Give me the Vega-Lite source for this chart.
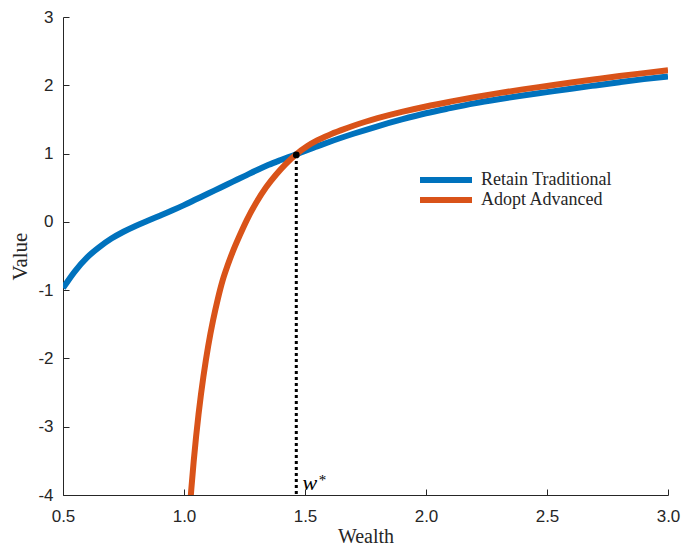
{
  "$schema": "https://vega.github.io/schema/vega-lite/v6.json",
  "autosize": {"type": "none"},
  "padding": {"left": 63, "top": 17, "right": 16, "bottom": 53},
  "width": 605,
  "height": 478,
  "background": "white",
  "config": {
    "view": {"stroke": null},
    "axis": {
      "domainColor": "#262626",
      "tickColor": "#262626",
      "labelColor": "#262626",
      "titleColor": "#262626",
      "labelFont": "Liberation Sans",
      "labelFontSize": 17,
      "titleFont": "Liberation Serif",
      "titleFontSize": 21,
      "titleFontWeight": "normal",
      "grid": false,
      "tickSize": -6,
      "domainWidth": 1,
      "tickWidth": 1,
      "labelFlush": false
    }
  },
  "datasets": {
    "curves": [
      {"wealth": 0.5, "value": -0.97, "series": "Retain Traditional"},
      {"wealth": 0.55, "value": -0.72, "series": "Retain Traditional"},
      {"wealth": 0.6, "value": -0.52, "series": "Retain Traditional"},
      {"wealth": 0.65, "value": -0.37, "series": "Retain Traditional"},
      {"wealth": 0.7, "value": -0.245, "series": "Retain Traditional"},
      {"wealth": 0.75, "value": -0.145, "series": "Retain Traditional"},
      {"wealth": 0.8, "value": -0.06, "series": "Retain Traditional"},
      {"wealth": 0.85, "value": 0.015, "series": "Retain Traditional"},
      {"wealth": 0.9, "value": 0.09, "series": "Retain Traditional"},
      {"wealth": 0.95, "value": 0.165, "series": "Retain Traditional"},
      {"wealth": 1.0, "value": 0.245, "series": "Retain Traditional"},
      {"wealth": 1.05, "value": 0.33, "series": "Retain Traditional"},
      {"wealth": 1.1, "value": 0.415, "series": "Retain Traditional"},
      {"wealth": 1.15, "value": 0.5, "series": "Retain Traditional"},
      {"wealth": 1.2, "value": 0.585, "series": "Retain Traditional"},
      {"wealth": 1.25, "value": 0.67, "series": "Retain Traditional"},
      {"wealth": 1.3, "value": 0.755, "series": "Retain Traditional"},
      {"wealth": 1.35, "value": 0.835, "series": "Retain Traditional"},
      {"wealth": 1.4, "value": 0.905, "series": "Retain Traditional"},
      {"wealth": 1.464, "value": 0.99, "series": "Retain Traditional"},
      {"wealth": 1.5, "value": 1.04, "series": "Retain Traditional"},
      {"wealth": 1.55, "value": 1.105, "series": "Retain Traditional"},
      {"wealth": 1.6, "value": 1.17, "series": "Retain Traditional"},
      {"wealth": 1.7, "value": 1.29, "series": "Retain Traditional"},
      {"wealth": 1.8, "value": 1.4, "series": "Retain Traditional"},
      {"wealth": 1.9, "value": 1.5, "series": "Retain Traditional"},
      {"wealth": 2.0, "value": 1.59, "series": "Retain Traditional"},
      {"wealth": 2.1, "value": 1.665, "series": "Retain Traditional"},
      {"wealth": 2.2, "value": 1.735, "series": "Retain Traditional"},
      {"wealth": 2.3, "value": 1.795, "series": "Retain Traditional"},
      {"wealth": 2.4, "value": 1.85, "series": "Retain Traditional"},
      {"wealth": 2.5, "value": 1.9, "series": "Retain Traditional"},
      {"wealth": 2.6, "value": 1.95, "series": "Retain Traditional"},
      {"wealth": 2.7, "value": 1.998, "series": "Retain Traditional"},
      {"wealth": 2.8, "value": 2.045, "series": "Retain Traditional"},
      {"wealth": 2.9, "value": 2.09, "series": "Retain Traditional"},
      {"wealth": 3.0, "value": 2.13, "series": "Retain Traditional"},
      {"wealth": 1.02, "value": -4.39, "series": "Adopt Advanced"},
      {"wealth": 1.03, "value": -3.922, "series": "Adopt Advanced"},
      {"wealth": 1.04, "value": -3.509, "series": "Adopt Advanced"},
      {"wealth": 1.05, "value": -3.144, "series": "Adopt Advanced"},
      {"wealth": 1.06, "value": -2.82, "series": "Adopt Advanced"},
      {"wealth": 1.07, "value": -2.53, "series": "Adopt Advanced"},
      {"wealth": 1.08, "value": -2.27, "series": "Adopt Advanced"},
      {"wealth": 1.09, "value": -2.033, "series": "Adopt Advanced"},
      {"wealth": 1.1, "value": -1.818, "series": "Adopt Advanced"},
      {"wealth": 1.12, "value": -1.444, "series": "Adopt Advanced"},
      {"wealth": 1.14, "value": -1.125, "series": "Adopt Advanced"},
      {"wealth": 1.16, "value": -0.853, "series": "Adopt Advanced"},
      {"wealth": 1.18, "value": -0.64, "series": "Adopt Advanced"},
      {"wealth": 1.2, "value": -0.45, "series": "Adopt Advanced"},
      {"wealth": 1.23, "value": -0.2, "series": "Adopt Advanced"},
      {"wealth": 1.26, "value": 0.03, "series": "Adopt Advanced"},
      {"wealth": 1.3, "value": 0.29, "series": "Adopt Advanced"},
      {"wealth": 1.34, "value": 0.51, "series": "Adopt Advanced"},
      {"wealth": 1.38, "value": 0.69, "series": "Adopt Advanced"},
      {"wealth": 1.42, "value": 0.845, "series": "Adopt Advanced"},
      {"wealth": 1.464, "value": 0.99, "series": "Adopt Advanced"},
      {"wealth": 1.51, "value": 1.11, "series": "Adopt Advanced"},
      {"wealth": 1.55, "value": 1.192, "series": "Adopt Advanced"},
      {"wealth": 1.6, "value": 1.273, "series": "Adopt Advanced"},
      {"wealth": 1.65, "value": 1.343, "series": "Adopt Advanced"},
      {"wealth": 1.7, "value": 1.408, "series": "Adopt Advanced"},
      {"wealth": 1.75, "value": 1.466, "series": "Adopt Advanced"},
      {"wealth": 1.8, "value": 1.518, "series": "Adopt Advanced"},
      {"wealth": 1.9, "value": 1.61, "series": "Adopt Advanced"},
      {"wealth": 2.0, "value": 1.69, "series": "Adopt Advanced"},
      {"wealth": 2.1, "value": 1.76, "series": "Adopt Advanced"},
      {"wealth": 2.2, "value": 1.825, "series": "Adopt Advanced"},
      {"wealth": 2.3, "value": 1.885, "series": "Adopt Advanced"},
      {"wealth": 2.4, "value": 1.94, "series": "Adopt Advanced"},
      {"wealth": 2.5, "value": 1.99, "series": "Adopt Advanced"},
      {"wealth": 2.6, "value": 2.04, "series": "Adopt Advanced"},
      {"wealth": 2.7, "value": 2.088, "series": "Adopt Advanced"},
      {"wealth": 2.8, "value": 2.135, "series": "Adopt Advanced"},
      {"wealth": 2.9, "value": 2.178, "series": "Adopt Advanced"},
      {"wealth": 3.0, "value": 2.22, "series": "Adopt Advanced"}
    ],
    "threshold": [
      {"wealth": 1.464, "value": 0.98, "bottom": -4}
    ],
    "labels": [
      {"wealth": 1.49, "value": -3.92, "text": "w", "kind": "main"},
      {"wealth": 1.557, "value": -3.85, "text": "*", "kind": "sup"}
    ]
  },
  "layer": [
    {
      "data": {"name": "threshold"},
      "mark": {"type": "rule", "color": "black", "strokeWidth": 3, "strokeDash": [3, 3]},
      "encoding": {
        "x": {"field": "wealth", "type": "quantitative"},
        "y": {"field": "value", "type": "quantitative"},
        "y2": {"field": "bottom"}
      }
    },
    {
      "data": {"name": "curves"},
      "transform": [{"filter": "datum.series === 'Retain Traditional'"}],
      "mark": {"type": "line", "strokeWidth": 6, "interpolate": "monotone", "clip": true, "strokeCap": "butt"},
      "encoding": {
        "x": {
          "field": "wealth", "type": "quantitative",
          "scale": {"domain": [0.5, 3.0], "nice": false, "zero": false},
          "axis": {"title": "Wealth", "values": [0.5, 1.0, 1.5, 2.0, 2.5, 3.0], "format": ".1f", "labelPadding": 19, "titlePadding": 2, "titleFontSize": 20}
        },
        "y": {
          "field": "value", "type": "quantitative",
          "scale": {"domain": [-4, 3], "nice": false, "zero": false},
          "axis": {"title": "Value", "values": [-4, -3, -2, -1, 0, 1, 2, 3], "labelExpr": "datum.value < 0 ? '-' + abs(datum.value) : '' + datum.value", "labelPadding": 16, "titlePadding": 7}
        },
        "color": {
          "field": "series", "type": "nominal",
          "scale": {"domain": ["Retain Traditional", "Adopt Advanced"], "range": ["#0072BD", "#D95319"]},
          "legend": {
            "title": null,
            "orient": "none",
            "legendX": 354,
            "legendY": 153,
            "symbolType": "stroke",
            "symbolSize": 2704,
            "symbolStrokeWidth": 6,
            "labelFont": "Liberation Serif",
            "labelFontSize": 18,
            "labelColor": "#262626",
            "labelOffset": 6,
            "clipHeight": 20,
            "rowPadding": 0
          }
        }
      }
    },
    {
      "data": {"name": "curves"},
      "transform": [{"filter": "datum.series === 'Adopt Advanced'"}],
      "mark": {"type": "line", "strokeWidth": 6, "interpolate": "monotone", "clip": true, "strokeCap": "butt"},
      "encoding": {
        "x": {"field": "wealth", "type": "quantitative"},
        "y": {"field": "value", "type": "quantitative"},
        "color": {"field": "series", "type": "nominal"}
      }
    },
    {
      "data": {"name": "threshold"},
      "mark": {"type": "point", "filled": true, "color": "black", "size": 45, "opacity": 1},
      "encoding": {
        "x": {"field": "wealth", "type": "quantitative"},
        "y": {"field": "value", "type": "quantitative"}
      }
    },
    {
      "data": {"name": "labels"},
      "transform": [{"filter": "datum.kind === 'main'"}],
      "mark": {"type": "text", "font": "Liberation Serif", "fontStyle": "italic", "fontSize": 22, "align": "left", "baseline": "alphabetic", "color": "black"},
      "encoding": {
        "x": {"field": "wealth", "type": "quantitative"},
        "y": {"field": "value", "type": "quantitative"},
        "text": {"field": "text"}
      }
    },
    {
      "data": {"name": "labels"},
      "transform": [{"filter": "datum.kind === 'sup'"}],
      "mark": {"type": "text", "font": "Liberation Serif", "fontSize": 15, "align": "left", "baseline": "alphabetic", "color": "black"},
      "encoding": {
        "x": {"field": "wealth", "type": "quantitative"},
        "y": {"field": "value", "type": "quantitative"},
        "text": {"field": "text"}
      }
    }
  ]
}
